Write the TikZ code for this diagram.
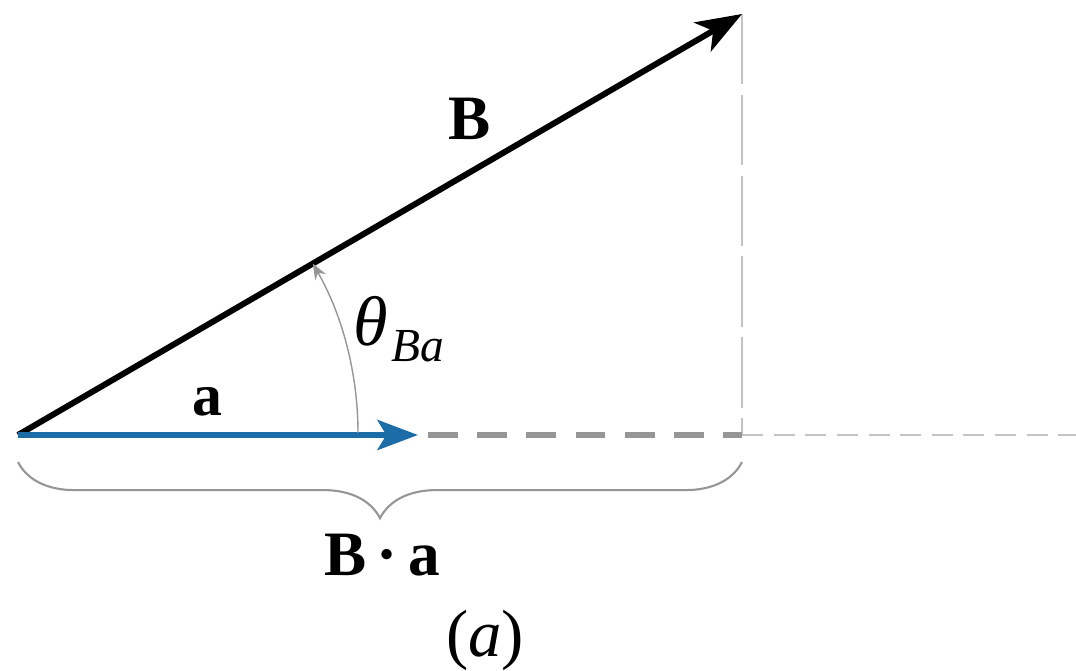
\documentclass[tikz,border=0pt]{standalone}
\usepackage{fontspec}
\setmainfont{Liberation Serif}
\usetikzlibrary{arrows.meta,decorations.pathreplacing}
\definecolor{vecblue}{RGB}{28,108,168}
\definecolor{dashgray}{RGB}{150,150,150}
\definecolor{lightgray2}{RGB}{195,195,195}
\tikzset{
  vecB/.style={line width=3.4pt,black,-{Stealth[length=26pt,width=19pt,inset=7pt]}},
  veca/.style={line width=3.6pt,vecblue,-{Stealth[length=23pt,width=17pt,inset=5pt]}},
  thickdash/.style={line width=3.4pt,dashgray,dash pattern=on 17pt off 11pt},
  thindash/.style={line width=1.1pt,lightgray2,dash pattern=on 12pt off 6pt},
  vdash/.style={line width=1.1pt,lightgray2,dash pattern=on 40pt off 6pt},
  anglearc/.style={line width=0.8pt,dashgray,-{Stealth[length=9pt,width=7pt]}},
  bracestyle/.style={line width=1.2pt,dashgray,decorate,decoration={brace,mirror,amplitude=32pt}},
  lbl/.style={inner sep=0pt,font=\fontsize{34}{40}\selectfont}
}
\begin{document}
\begin{tikzpicture}[x=0.02cm,y=-0.02cm]
\useasboundingbox (0,0) rectangle (1076,671);
\coordinate (O) at (18,435);
\coordinate (Bt) at (742,14);
\coordinate (at) at (418,435);
\coordinate (ds) at (428,435);
\coordinate (P) at (742,435);
\coordinate (R) at (1076,435);
\coordinate (bl) at (18,462);
\coordinate (br) at (742,462);
% dashed projections
\draw[vdash] (Bt) -- (P);
\draw[thindash] (P) -- (R);
\draw[thickdash] (ds) -- (P);
% vectors
\draw[vecB] (O) -- (Bt);
\draw[veca] (O) -- (at);
% angle arc
\draw[anglearc] (358,433) arc[start angle=0,end angle=-29.9,radius=340];
% brace
\draw[bracestyle] (bl) -- (br);
% labels
\node[lbl,font=\fontsize{36}{40}\selectfont\bfseries] (LB) at (470,119) {B};
\node[lbl,font=\fontsize{34}{40}\selectfont\bfseries] (La) at (207,402) {a};
\node[lbl,anchor=base west,font=\fontsize{40}{44}\selectfont] (Lth) at (353,346) {\itshape θ\kern2pt\raisebox{-9pt}{\fontsize{27}{30}\selectfont Ba}};
\node[lbl,font=\fontsize{36}{40}\selectfont\bfseries] (LBa) at (382,555) {B\,·\,a};
\node[lbl,font=\fontsize{38}{42}\selectfont] (Lcap) at (485,640) {(\textit{a})};
\end{tikzpicture}
\end{document}
